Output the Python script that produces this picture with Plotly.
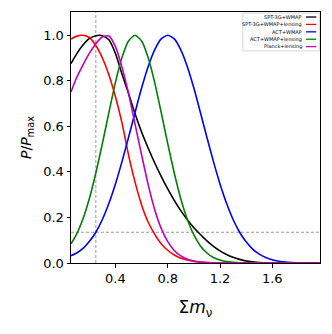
import plotly.graph_objects as go

# sum of neutrino masses (eV) at which the curves were read
MNU = [0.06, 0.10, 0.15, 0.20, 0.25, 0.30, 0.35, 0.40, 0.45, 0.50,
       0.55, 0.60, 0.65, 0.70, 0.75, 0.80, 0.85, 0.90, 0.95, 1.00,
       1.05, 1.10, 1.15, 1.20, 1.25, 1.30, 1.35, 1.40, 1.45, 1.50,
       1.55, 1.60, 1.65, 1.70, 1.75, 1.80, 1.85, 1.90, 1.96]

SPT_WMAP = [0.876, 0.915, 0.956, 0.985, 0.998, 0.998, 0.98, 0.92, 0.83, 0.745,
            0.655, 0.575, 0.505, 0.44, 0.38, 0.325, 0.275, 0.23, 0.19, 0.155,
            0.125, 0.097, 0.073, 0.053, 0.037, 0.025, 0.016, 0.009, 0.005, 0.002,
            0.001, 0, 0, 0, 0, 0, 0, 0, 0]

SPT_WMAP_LENS = [0.983, 0.995, 1.0, 0.99, 0.955, 0.90, 0.825, 0.73, 0.615, 0.475,
                 0.355, 0.255, 0.18, 0.127, 0.085, 0.056, 0.035, 0.021, 0.013, 0.007,
                 0.004, 0.002, 0.001, 0, 0, 0, 0, 0, 0, 0,
                 0, 0, 0, 0, 0, 0, 0, 0, 0]

ACT_WMAP = [0.032, 0.043, 0.063, 0.094, 0.135, 0.191, 0.262, 0.347, 0.445, 0.551,
            0.661, 0.768, 0.862, 0.936, 0.984, 1.0, 0.984, 0.936, 0.862, 0.768,
            0.661, 0.551, 0.445, 0.347, 0.262, 0.191, 0.135, 0.093, 0.061, 0.039,
            0.024, 0.014, 0.008, 0.004, 0.002, 0.001, 0, 0, 0]

ACT_WMAP_LENS = [0.084, 0.123, 0.191, 0.282, 0.395, 0.524, 0.661, 0.793, 0.902, 0.975,
                 1.0, 0.975, 0.902, 0.793, 0.661, 0.524, 0.395, 0.282, 0.191, 0.123,
                 0.075, 0.044, 0.024, 0.013, 0.006, 0.003, 0.001, 0, 0, 0,
                 0, 0, 0, 0, 0, 0, 0, 0, 0]

PLANCK_LENS = [0.751, 0.81, 0.868, 0.92, 0.963, 0.992, 0.997, 0.95, 0.86, 0.745,
               0.61, 0.475, 0.345, 0.235, 0.152, 0.094, 0.055, 0.031, 0.017, 0.009,
               0.004, 0.002, 0.001, 0, 0, 0, 0, 0, 0, 0,
               0, 0, 0, 0, 0, 0, 0, 0, 0]

LABELS = ["SPT-3G+WMAP", "SPT-3G+WMAP+lensing", "ACT+WMAP",
          "ACT+WMAP+lensing", "Planck+lensing"]
SERIES = [SPT_WMAP, SPT_WMAP_LENS, ACT_WMAP, ACT_WMAP_LENS, PLANCK_LENS]
COLORS = ["black", "#ff0000", "#0000ff", "#008000", "#bf00bf"]

REF_MNU = 0.25      # vertical dashed line
REF_P = 0.135       # exp(-2) level

X_TICKS = [0.4, 0.8, 1.2, 1.6]
Y_TICKS = [0.0, 0.2, 0.4, 0.6, 0.8, 1.0]

fig = go.Figure()

fig.add_vline(x=REF_MNU, line=dict(color="gray", width=0.8, dash="3px,2px"), layer="below")
fig.add_hline(y=REF_P, line=dict(color="gray", width=0.8, dash="3px,2px"), layer="below")

for name, ys, col in zip(LABELS, SERIES, COLORS):
    fig.add_trace(go.Scatter(
        x=MNU, y=ys, mode="lines", name=name, showlegend=False,
        line=dict(color=col, width=1.6, shape="spline", smoothing=0.6),
    ))

# legend drawn by hand: text right-aligned, line sample on the right
leg_top = 0.98
leg_step = 0.0295
fig.add_shape(type="rect", xref="paper", yref="paper",
              x0=0.69, x1=0.997, y0=0.845, y1=0.996,
              line=dict(color="#cccccc", width=0.8), fillcolor="white")
for i, (name, col) in enumerate(zip(LABELS, COLORS)):
    yy = leg_top - i * leg_step
    fig.add_annotation(xref="paper", yref="paper", x=0.936, y=yy,
                       text=name, showarrow=False, xanchor="right", yanchor="middle",
                       font=dict(size=5, color="black", family="DejaVu Sans"))
    fig.add_shape(type="line", xref="paper", yref="paper",
                  x0=0.944, x1=0.985, y0=yy, y1=yy,
                  line=dict(color=col, width=1.3))

axis_common = dict(
    showline=True, linecolor="black", linewidth=1, mirror=True,
    ticks="outside", ticklen=3.5, tickwidth=0.8, tickcolor="black",
    showgrid=False, zeroline=False, automargin=False,
    tickfont=dict(size=13, color="black", family="DejaVu Sans"),
)

# the page body adds 8px on the top/left, so the figure is made 8px smaller
fig.update_layout(
    template="none",
    width=324, height=326,
    margin=dict(l=63, r=12, t=4, b=71, autoexpand=False),
    plot_bgcolor="white", paper_bgcolor="white",
    font=dict(family="DejaVu Sans", color="black"),
    xaxis=dict(range=[0.06, 1.965], tickvals=X_TICKS, tickformat=".1f",
               title=dict(text="Σ<i>m</i><sub>ν</sub>", font=dict(size=17), standoff=16),
               **axis_common),
    yaxis=dict(range=[0, 1.102], tickvals=Y_TICKS, tickformat=".1f",
               title=dict(text="<i>P</i>/<i>P</i><sub>max</sub>", font=dict(size=14), standoff=8),
               **axis_common),
)

fig.write_html("out.html")
